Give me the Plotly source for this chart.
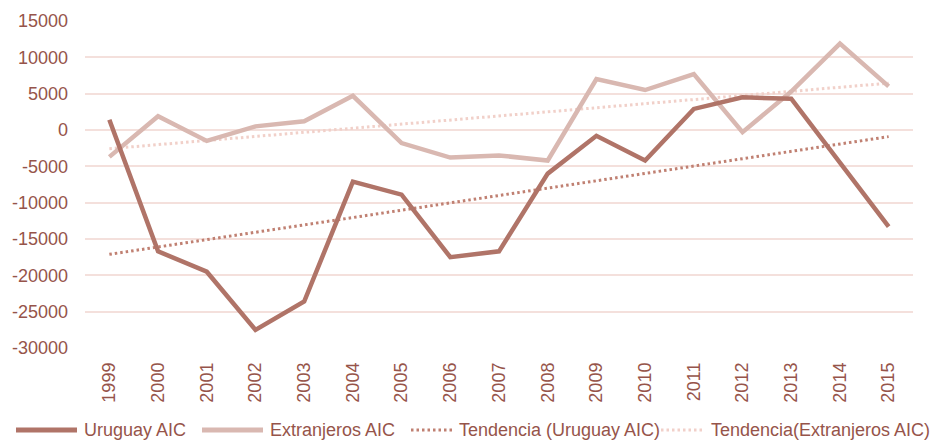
import numpy as np
import plotly.graph_objects as go

years = [str(y) for y in range(1999, 2016)]
uruguay_aic = [1400, -16700, -19500, -27500, -23600, -7100, -8900, -17500, -16700,
               -6000, -800, -4200, 2900, 4500, 4300, -4500, -13300]
extranjeros_aic = [-3700, 1900, -1500, 500, 1200, 4700, -1800, -3800, -3500,
                   -4200, 7000, 5500, 7700, -300, 5300, 11900, 6000]
ytick_vals = [15000, 10000, 5000, 0, -5000, -10000, -15000, -20000, -25000, -30000]
ytick_text = ["15000", "10000", "5000", "0", "-5000", "-10000", "-15000", "-20000", "-25000", "-30000"]
legend_names = ["Uruguay AIC", "Extranjeros AIC", "Tendencia (Uruguay AIC)", "Tendencia(Extranjeros AIC)"]

DARK = "rgb(176,116,104)"
LIGHT = "rgb(217,184,177)"
DARK_DOT = "rgb(192,128,114)"
LIGHT_DOT = "rgb(241,208,201)"
TEXT = "rgb(150,84,74)"
GRID = "rgb(244,224,220)"

idx = np.arange(len(years))


def trend(vals):
    m, b = np.polyfit(idx, np.array(vals, dtype=float), 1)
    return [b + m * idx[0], b + m * idx[-1]]


fig = go.Figure()
fig.add_trace(go.Scatter(x=[years[0], years[-1]], y=trend(uruguay_aic), mode="lines",
                         line=dict(color=DARK_DOT, width=3, dash="2.5px,3px"),
                         name=legend_names[2]))
fig.add_trace(go.Scatter(x=[years[0], years[-1]], y=trend(extranjeros_aic), mode="lines",
                         line=dict(color=LIGHT_DOT, width=3, dash="2.5px,3px"),
                         name=legend_names[3]))
fig.add_trace(go.Scatter(x=years, y=extranjeros_aic, mode="lines",
                         line=dict(color=LIGHT, width=4.5), name=legend_names[1]))
fig.add_trace(go.Scatter(x=years, y=uruguay_aic, mode="lines",
                         line=dict(color=DARK, width=4.5), name=legend_names[0]))

W, H = 935, 442
L, R, T, B = 85, 22, 21, 94
pw, ph = W - L - R, H - T - B


def px_x(p):
    return (p - L) / pw


def px_y(p):
    return (H - B - p) / ph


leg_y = 430
legend_items = [
    (16, 77, 82, DARK, None, legend_names[0]),
    (202, 263, 268, LIGHT, None, legend_names[1]),
    (411, 452, 457, DARK_DOT, "dot", legend_names[2]),
    (661, 703, 709, LIGHT_DOT, "dot", legend_names[3]),
]
shapes = []
annotations = []
for x0, x1, xt, col, dash, name in legend_items:
    shapes.append(dict(type="line", xref="paper", yref="paper",
                       x0=px_x(x0), x1=px_x(x1), y0=px_y(leg_y), y1=px_y(leg_y),
                       line=dict(color=col, width=3 if dash else 5,
                                 dash="2.5px,3px" if dash else "solid")))
    annotations.append(dict(text=name, xref="paper", yref="paper", x=px_x(xt), y=px_y(leg_y),
                            xanchor="left", yanchor="middle", showarrow=False,
                            font=dict(family="Liberation Sans", size=18, color=TEXT)))

fig.update_layout(
    width=W, height=H,
    margin=dict(l=L, r=R, t=T, b=B),
    paper_bgcolor="white", plot_bgcolor="white",
    showlegend=False,
    shapes=shapes, annotations=annotations,
    font=dict(family="Liberation Sans", size=18, color=TEXT),
)
fig.update_xaxes(type="category", categoryorder="array", categoryarray=years,
                 range=[-0.5, len(years) - 0.5], showgrid=False,
                 showline=False, zeroline=False, tickangle=-90, ticks="",
                 ticklabelstandoff=10, tickfont=dict(size=18, color=TEXT))
fig.update_yaxes(range=[-30000, 15000], tickvals=ytick_vals, ticktext=ytick_text,
                 showgrid=True, gridcolor=GRID, gridwidth=2, zeroline=False,
                 showline=False, ticks="", ticklabelstandoff=16,
                 tickfont=dict(size=18, color=TEXT))

fig.write_html("out.html", config={"displayModeBar": False},
               post_script="document.body.style.margin='0px';document.body.style.overflow='hidden';")
